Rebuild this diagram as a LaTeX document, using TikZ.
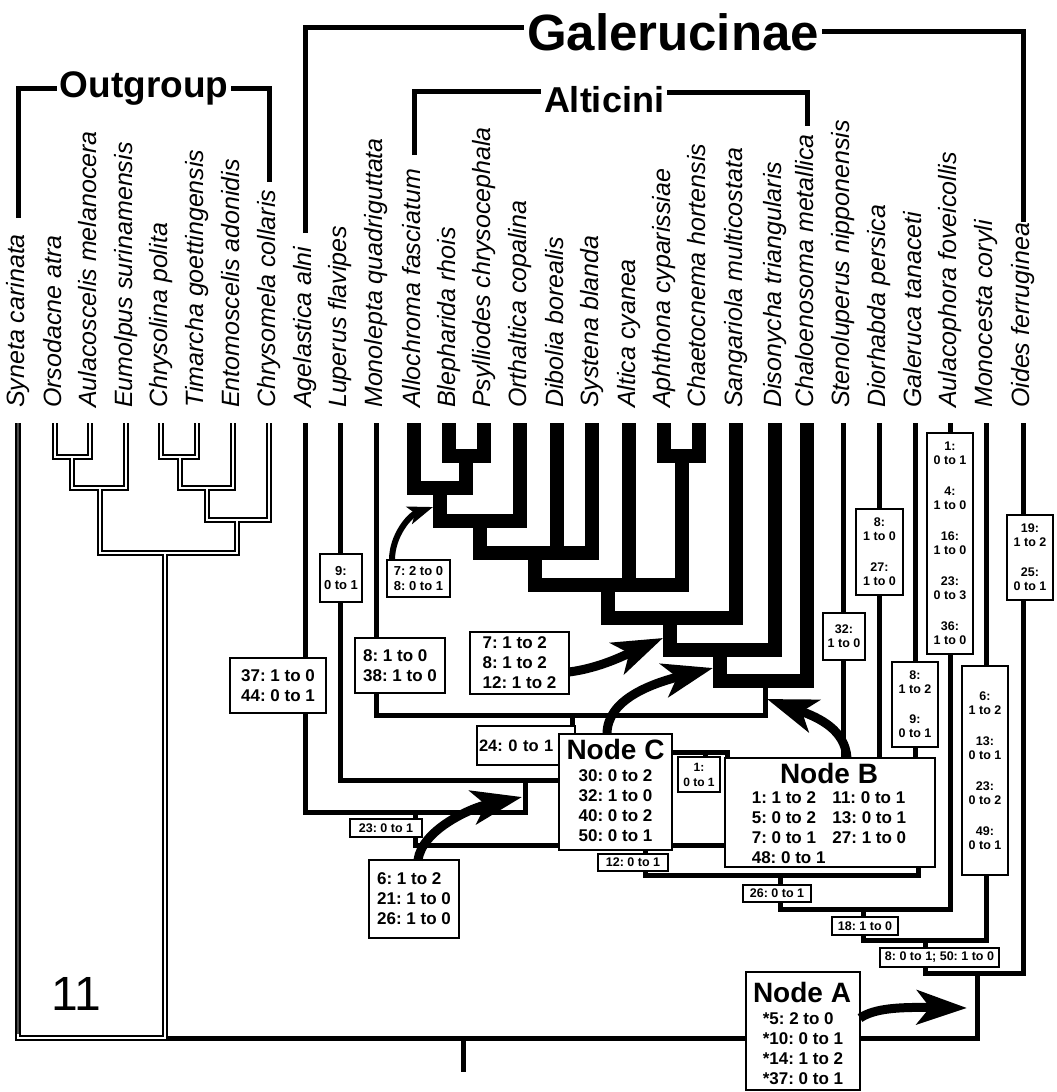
\documentclass[tikz,border=0pt]{standalone}
\usepackage{fontspec}
\setmainfont{Liberation Sans}
\usetikzlibrary{arrows.meta}
\frenchspacing
\begin{document}
\begin{tikzpicture}[x=1pt,y=-1pt,
  br/.style={line width=5pt, line join=miter},
  abr/.style={line width=13.5pt, line join=miter},
  grp/.style={line width=5pt, line join=miter},
  ogout/.style={line width=5.8pt, line join=miter},
  ogin/.style={line width=2.2pt, white, line join=miter},
  taxon/.style={rotate=90, anchor=west, inner sep=0pt, text height=18pt, text depth=5pt, font={\fontsize{25}{26}\selectfont\itshape}},
  gname/.style={anchor=base, inner xsep=3pt, inner ysep=0pt},
  boxbase/.style={draw, line width=2pt, fill=white, inner sep=0pt},
  sbox/.style={boxbase, align=center, font={\bfseries\fontsize{12.5}{14}\selectfont}},
  lbox/.style={boxbase, align=left, font={\bfseries\fontsize{17}{20}\selectfont}},
  tbox/.style={boxbase, font={\bfseries\fontsize{12.5}{14}\selectfont}},
  ntitle/.style={inner sep=0pt, font={\bfseries\fontsize{28}{30}\selectfont}},
  nrows/.style={inner sep=0pt, font={\bfseries\fontsize{17}{20}\selectfont}},
  arwb/.style={line width=9pt, -{Stealth[length=50pt,width=34pt,inset=13pt]}},
  arws/.style={line width=6pt, -{Stealth[length=25pt,width=18pt,inset=6pt]}},
]
\useasboundingbox (0,0) rectangle (1057,1092);

% ---------- taxa ----------
\foreach \x/\n/\t in {18/tSyn/Syneta carinata, 55/tOrs/Orsodacne atra, 90/tAul/Aulacoscelis melanocera,
  126/tEum/Eumolpus surinamensis, 161/tChp/Chrysolina polita, 197/tTim/Timarcha goettingensis,
  233/tEnt/Entomoscelis adonidis, 269/tChc/Chrysomela collaris, 305/tAge/Agelastica alni,
  340/tLup/Luperus flavipes, 376/tMon/Monolepta quadriguttata, 414/tAll/Allochroma fasciatum,
  449/tBle/Blepharida rhois, 484/tPsy/Psylliodes chrysocephala, 520/tOrt/Orthaltica copalina,
  557/tDib/Dibolia borealis, 592/tSys/Systena blanda, 629/tAlt/Altica cyanea,
  664/tAph/Aphthona cyparissiae, 699/tCht/Chaetocnema hortensis, 736/tSan/Sangariola multicostata,
  775/tDis/Disonycha triangularis, 807/tChm/Chaloenosoma metallica, 843/tSte/Stenoluperus nipponensis,
  879/tDio/Diorhabda persica, 915/tGal/Galeruca tanaceti, 950/tAuf/Aulacophora foveicollis,
  986/tMoc/Monocesta coryli, 1023/tOid/Oides ferruginea}
  {\node[taxon] (\n) at (\x,408) {\t};}

% ---------- group names and brackets ----------
\node[gname, font={\bfseries\fontsize{37}{40}\selectfont}] (og) at (144,97) {Outgroup};
\node[gname, font={\bfseries\fontsize{51}{54}\selectfont}] (gal) at (673,50) {Galerucinae};
\node[gname, font={\bfseries\fontsize{36}{40}\selectfont}] (alt) at (604,112) {Alticini};
\draw[grp] (18,218) -- (18,88) -- (og.west |- 0,88);
\draw[grp] (og.east |- 0,88) -- (269,88) -- (269,182);
\draw[grp] (305,233) -- (305,27) -- (gal.west |- 0,27);
\draw[grp] (gal.east |- 0,31) -- (1023,31) -- (1023,222);
\draw[grp] (414,155) -- (414,91) -- (alt.west |- 0,91);
\draw[grp] (alt.east |- 0,92) -- (807,92) -- (807,126);

% ---------- outgroup (double lines) ----------
\draw[ogout] (55,423)--(55,457)--(90,457)--(90,423);
\draw[ogout] (72,457)--(72,488)--(126,488)--(126,423);
\draw[ogout] (100,488)--(100,553)--(237,553)--(237,520);
\draw[ogout] (161,423)--(161,457)--(197,457)--(197,423);
\draw[ogout] (180,457)--(180,488)--(233,488)--(233,423);
\draw[ogout] (207,488)--(207,520)--(269,520)--(269,423);
\draw[ogout] (165,553)--(165,1038)--(18,1038)--(18,423);
\draw[ogin] (55,423)--(55,457)--(90,457)--(90,423);
\draw[ogin] (72,457)--(72,488)--(126,488)--(126,423);
\draw[ogin] (100,488)--(100,553)--(237,553)--(237,520);
\draw[ogin] (161,423)--(161,457)--(197,457)--(197,423);
\draw[ogin] (180,457)--(180,488)--(233,488)--(233,423);
\draw[ogin] (207,488)--(207,520)--(269,520)--(269,423);
\draw[ogin] (165,553)--(165,1038)--(18,1038)--(18,423);
\draw[line width=2.2pt, black!70] (18,423)--(18,1034);
\node[font=\fontsize{48}{50}\selectfont, anchor=base, inner sep=0pt] (eleven) at (76,1010) {11};

% ---------- ingroup branches ----------
\draw[br] (305,423)--(305,812)--(525,812)--(525,780);
\draw[br] (340,423)--(340,780)--(572,780);
\draw[br] (376,423)--(376,715)--(765,715)--(765,681);
\draw[br] (572,715)--(572,780);
\draw[br] (415,812)--(415,845)--(760,845);
\draw[br] (572,752)--(727,752)--(727,775);
\draw[br] (705,752)--(705,760);
\draw[br] (843,423)--(843,770);
\draw[br] (879,423)--(879,770);
\draw[br] (915,423)--(915,770);
\draw[br] (645,830)--(645,875)--(918,875)--(918,850);
\draw[br] (780,875)--(780,909)--(950,909)--(950,423);
\draw[br] (863,909)--(863,940)--(986,940)--(986,423);
\draw[br] (925,940)--(925,973)--(1023,973)--(1023,423);
\draw[br] (977,973)--(977,1038)--(168,1038);
\draw[br] (463,1038)--(463,1072);

% ---------- Alticini (thick) ----------
\draw[abr] (449,423)--(449,456)--(484,456)--(484,423);
\draw[abr] (466,456)--(466,488)--(414,488)--(414,423);
\draw[abr] (440,488)--(440,521)--(520,521)--(520,423);
\draw[abr] (480,521)--(480,553)--(592,553)--(592,423);
\draw[abr] (557,423)--(557,553);
\draw[abr] (664,423)--(664,456)--(699,456)--(699,423);
\draw[abr] (535,553)--(535,585)--(682,585)--(682,456);
\draw[abr] (629,423)--(629,585);
\draw[abr] (608,585)--(608,618)--(736,618)--(736,423);
\draw[abr] (670,618)--(670,650)--(775,650)--(775,423);
\draw[abr] (720,650)--(720,681)--(807,681)--(807,423);

% ---------- character boxes ----------
\node[sbox, font={\bfseries\fontsize{13}{14}\selectfont}, minimum width=42pt, minimum height=48pt] (bLup) at (341,578) {9:\\0 to 1};
\node[sbox, font={\bfseries\fontsize{13}{15}\selectfont}, minimum width=63pt, minimum height=37pt] (bAllo) at (418.5,578.5) {7: 2 to 0\\8: 0 to 1};
\node[lbox, minimum width=96pt, minimum height=55pt] (bAge) at (278,685.5) {37: 1 to 0\\44: 0 to 1};
\node[lbox, minimum width=90pt, minimum height=55pt] (bMono) at (400,665.5) {8: 1 to 0\\38: 1 to 0};
\node[lbox, minimum width=99pt, minimum height=62pt] (bAlt) at (519.5,663) {7: 1 to 2\\8: 1 to 2\\12: 1 to 2};
\node[lbox, minimum width=90pt, minimum height=78pt] (b6) at (414,899) {6: 1 to 2\\21: 1 to 0\\26: 1 to 0};
\node[tbox, minimum width=72pt, minimum height=18pt] (b23) at (386,828) {23: 0 to 1};
\node[lbox, font={\bfseries\fontsize{16.5}{20}\selectfont}, text width=94pt, minimum width=98pt, minimum height=39pt] (b24) at (526,745.5) {24: 0 to 1};
\node[boxbase, minimum width=113pt, minimum height=116pt] (nC) at (615.5,792) {};
\node[ntitle] (nCt) at (615.5,749) {Node C};
\node[nrows] (nCr) at (615.5,807) {\begin{tabular}{@{}l@{}}30: 0 to 2\\32: 1 to 0\\40: 0 to 2\\50: 0 to 1\end{tabular}};
\node[sbox, font={\bfseries\fontsize{12}{15}\selectfont}, minimum width=42pt, minimum height=35pt] (b1) at (699,774.5) {1:\\0 to 1};
\node[tbox, minimum width=70pt, minimum height=17pt] (b12) at (633,862.5) {12: 0 to 1};
\node[boxbase, minimum width=210pt, minimum height=109pt] (nB) at (830,812.5) {};
\node[ntitle] (nBt) at (829,773) {Node B};
\node[nrows] (nBr) at (829,829) {\begin{tabular}{@{}l@{\hspace{7pt}}l@{}}1: 1 to 2 & 11: 0 to 1\\5: 0 to 2 & 13: 0 to 1\\7: 0 to 1 & 27: 1 to 0\\48: 0 to 1 & \end{tabular}};
\node[tbox, minimum width=68pt, minimum height=17pt] (b26) at (777,893.5) {26: 0 to 1};
\node[tbox, minimum width=66pt, minimum height=18pt] (b18) at (865,926) {18: 1 to 0};
\node[tbox, minimum width=119pt, minimum height=19pt] (b850) at (939.5,957.5) {8: 0 to 1; 50: 1 to 0};
\node[boxbase, minimum width=114pt, minimum height=118pt] (nA) at (803,1031) {};
\node[ntitle] (nAt) at (802,992) {Node A};
\node[nrows] (nAr) at (803,1050.5) {\begin{tabular}{@{}l@{}}*5: 2 to 0\\\relax *10: 0 to 1\\\relax *14: 1 to 2\\\relax *37: 0 to 1\end{tabular}};
\node[sbox, minimum width=42pt, minimum height=47pt] (bSte) at (844,636.5) {32:\\1 to 0};
\node[sbox, minimum width=47pt, minimum height=86pt] (bDio) at (879.5,552) {8:\\1 to 0\\[17pt]27:\\1 to 0};
\node[sbox, minimum width=46pt, minimum height=85pt] (bGal) at (915,704.5) {8:\\1 to 2\\[16pt]9:\\0 to 1};
\node[sbox, minimum width=46pt, minimum height=221pt] (bAul) at (950,543.5) {1:\\0 to 1\\[17pt]4:\\1 to 0\\[17pt]16:\\1 to 0\\[17pt]23:\\0 to 3\\[17pt]36:\\1 to 0};
\node[sbox, minimum width=46pt, minimum height=209pt] (bMoc) at (985,770.5) {6:\\1 to 2\\[17pt]13:\\0 to 1\\[17pt]23:\\0 to 2\\[17pt]49:\\0 to 1};
\node[sbox, minimum width=46pt, minimum height=85pt] (bOid) at (1030,557.5) {19:\\1 to 2\\[16pt]25:\\0 to 1};

% ---------- arrows ----------
\coordinate (a1s) at (392,560);  \coordinate (a1t) at (433,507);
\coordinate (a2s) at (569,672);  \coordinate (a2t) at (663,638);
\coordinate (a3s) at (607,734);  \coordinate (a3t) at (713,668);
\coordinate (a4s) at (847,758);  \coordinate (a4t) at (767,699);
\coordinate (a5s) at (418,860);  \coordinate (a5t) at (522,797);
\coordinate (a6s) at (860,1018); \coordinate (a6t) at (967,1008);
\draw[arws] (a1s) .. controls (392,535) and (410,515) .. (a1t);
\draw[arwb] (a2s) .. controls (600,668) and (625,655) .. (a2t);
\draw[arwb] (a3s) .. controls (607,700) and (650,684) .. (a3t);
\draw[arwb] (a4s) .. controls (845,730) and (820,718) .. (a4t);
\draw[arwb] (a5s) .. controls (422,830) and (470,808) .. (a5t);
\draw[arwb] (a6s) .. controls (875,1008) and (900,1007) .. (a6t);
\end{tikzpicture}
\end{document}
